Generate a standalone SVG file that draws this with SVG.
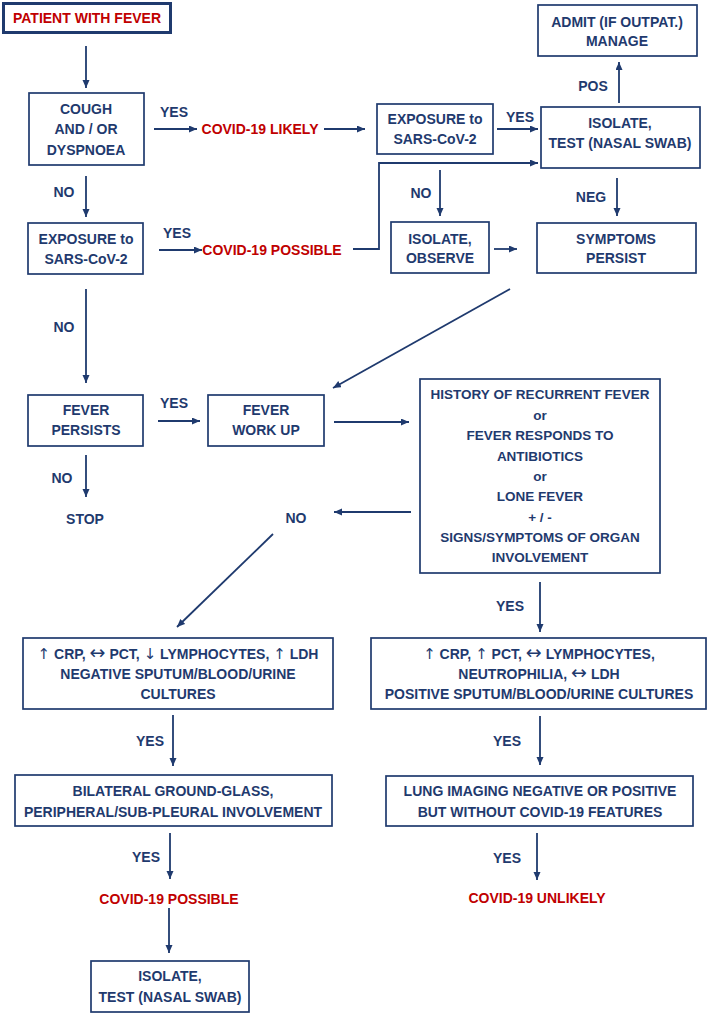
<svg xmlns="http://www.w3.org/2000/svg" width="708" height="1014" viewBox="0 0 708 1014">
<defs>
<marker id="ah" markerWidth="9" markerHeight="8" refX="8" refY="3.5" orient="auto" markerUnits="userSpaceOnUse">
<path d="M0,0 L8,3.5 L0,7 z" fill="#1F3A6E"/>
</marker>
<style>
.box{fill:#fff;stroke:#1F3A6E;stroke-width:1.7}
.t{font-family:"Liberation Sans",Arial,sans-serif;font-weight:bold;font-size:14px;fill:#1F3A6E;text-anchor:middle}
.r{fill:#C00000}
.s{font-size:13.5px}
.a{font-family:"DejaVu Sans",sans-serif;font-weight:normal;font-size:15px;fill:#1F3A6E}
.h{font-family:"DejaVu Sans",sans-serif;font-weight:normal;font-size:19px;fill:#1F3A6E}
.c{fill:none;stroke:#1F3A6E;stroke-width:1.8;marker-end:url(#ah)}
</style>
</defs>
<rect width="708" height="1014" fill="#fff"/>

<g id="connectors">
<line class="c" x1="86" y1="46" x2="86" y2="88"/>
<line class="c" x1="154" y1="129" x2="197" y2="129"/>
<line class="c" x1="324" y1="129" x2="365" y2="129"/>
<line class="c" x1="497" y1="129" x2="538" y2="129"/>
<line class="c" x1="619" y1="103" x2="619" y2="62"/>
<line class="c" x1="86" y1="176" x2="86" y2="217"/>
<line class="c" x1="159" y1="250" x2="202" y2="250"/>
<polyline class="c" points="353,249 379,249 379,163 538,163"/>
<line class="c" x1="440" y1="170" x2="440" y2="216"/>
<line class="c" x1="617" y1="178" x2="617" y2="216"/>
<line class="c" x1="494" y1="249" x2="517" y2="249"/>
<line class="c" x1="510" y1="289" x2="333" y2="388"/>
<line class="c" x1="86" y1="289" x2="86" y2="383"/>
<line class="c" x1="158" y1="421" x2="200" y2="421"/>
<line class="c" x1="334" y1="422" x2="409" y2="422"/>
<line class="c" x1="86" y1="455" x2="86" y2="497"/>
<line class="c" x1="411" y1="512" x2="334" y2="512"/>
<line class="c" x1="273" y1="534" x2="177" y2="627"/>
<line class="c" x1="540" y1="582" x2="540" y2="632"/>
<line class="c" x1="173" y1="715" x2="173" y2="766"/>
<line class="c" x1="540" y1="716" x2="540" y2="765"/>
<line class="c" x1="170" y1="833" x2="170" y2="879"/>
<line class="c" x1="537" y1="833" x2="537" y2="880"/>
<line class="c" x1="169" y1="908" x2="169" y2="953"/>
</g>

<g id="labels">
<text class="t" x="174" y="117">YES</text>
<text class="t" x="64" y="197">NO</text>
<text class="t" x="177" y="238">YES</text>
<text class="t" x="520" y="122">YES</text>
<text class="t" x="593" y="91">POS</text>
<text class="t" x="421" y="198">NO</text>
<text class="t" x="591" y="202">NEG</text>
<text class="t" x="64" y="332">NO</text>
<text class="t" x="174" y="408">YES</text>
<text class="t" x="62" y="483">NO</text>
<text class="t" x="85" y="524">STOP</text>
<text class="t" x="296" y="523">NO</text>
<text class="t" x="510" y="611">YES</text>
<text class="t" x="150" y="746">YES</text>
<text class="t" x="507" y="746">YES</text>
<text class="t" x="146" y="862">YES</text>
<text class="t" x="507" y="863">YES</text>
</g>

<g id="n-patient">
<rect x="3.5" y="3.5" width="167" height="29" fill="#fff" stroke="#1F3A6E" stroke-width="3"/>
<text class="t r" x="87" y="23">PATIENT WITH FEVER</text>
</g>
<g id="n-cough">
<rect class="box" x="29" y="93" width="115" height="72"/>
<text class="t" x="86" y="114">COUGH</text>
<text class="t" x="86" y="134">AND / OR</text>
<text class="t" x="86" y="155">DYSPNOEA</text>
</g>
<g id="n-likely">
<text class="t r" x="260" y="134">COVID-19 LIKELY</text>
</g>
<g id="n-exposure1">
<rect class="box" x="28" y="223" width="115" height="51"/>
<text class="t" x="86" y="244">EXPOSURE to</text>
<text class="t" x="86" y="264">SARS-CoV-2</text>
</g>
<g id="n-possible1">
<text class="t r" x="272" y="255">COVID-19 POSSIBLE</text>
</g>
<g id="n-exposure2">
<rect class="box" x="377" y="104" width="116" height="50"/>
<text class="t" x="435" y="124">EXPOSURE to</text>
<text class="t" x="435" y="144">SARS-CoV-2</text>
</g>
<g id="n-admit">
<rect class="box" x="538" y="5" width="159" height="51"/>
<text class="t" x="617" y="27">ADMIT (IF OUTPAT.)</text>
<text class="t" x="617" y="46">MANAGE</text>
</g>
<g id="n-isolate-test1">
<rect class="box" x="541" y="107" width="159" height="61"/>
<text class="t" x="620" y="128">ISOLATE,</text>
<text class="t" x="620" y="148">TEST (NASAL SWAB)</text>
</g>
<g id="n-isolate-observe">
<rect class="box" x="391" y="222" width="98" height="51"/>
<text class="t" x="440" y="244">ISOLATE,</text>
<text class="t" x="440" y="263">OBSERVE</text>
</g>
<g id="n-symptoms">
<rect class="box" x="537" y="223" width="159" height="50"/>
<text class="t" x="616" y="244">SYMPTOMS</text>
<text class="t" x="616" y="263">PERSIST</text>
</g>
<g id="n-fever-persists">
<rect class="box" x="28" y="395" width="115" height="51"/>
<text class="t" x="86" y="415">FEVER</text>
<text class="t" x="86" y="435">PERSISTS</text>
</g>
<g id="n-workup">
<rect class="box" x="208" y="395" width="116" height="51"/>
<text class="t" x="266" y="415">FEVER</text>
<text class="t" x="266" y="435">WORK UP</text>
</g>
<g id="n-history">
<rect class="box" x="420" y="379" width="240" height="194"/>
<text class="t s" x="540" y="399">HISTORY OF RECURRENT FEVER</text>
<text class="t s" x="540" y="420">or</text>
<text class="t s" x="540" y="440">FEVER RESPONDS TO</text>
<text class="t s" x="540" y="461">ANTIBIOTICS</text>
<text class="t s" x="540" y="481">or</text>
<text class="t s" x="540" y="501">LONE FEVER</text>
<text class="t s" x="540" y="522">+ / -</text>
<text class="t s" x="540" y="542">SIGNS/SYMPTOMS OF ORGAN</text>
<text class="t s" x="540" y="562">INVOLVEMENT</text>
</g>
<g id="n-labs-left">
<rect class="box" x="23" y="638" width="310" height="71"/>
<text class="t" x="178" y="659"><tspan class="a">↑</tspan> CRP, <tspan class="h">↔</tspan> PCT, <tspan class="a">↓</tspan> LYMPHOCYTES, <tspan class="a">↑</tspan> LDH</text>
<text class="t" x="178" y="679">NEGATIVE SPUTUM/BLOOD/URINE</text>
<text class="t" x="178" y="699">CULTURES</text>
</g>
<g id="n-labs-right">
<rect class="box" x="371" y="638" width="335" height="71"/>
<text class="t" x="539" y="659"><tspan class="a">↑</tspan> CRP, <tspan class="a">↑</tspan> PCT, <tspan class="h">↔</tspan> LYMPHOCYTES,</text>
<text class="t" x="539" y="679">NEUTROPHILIA, <tspan class="h">↔</tspan> LDH</text>
<text class="t" x="539" y="699">POSITIVE SPUTUM/BLOOD/URINE CULTURES</text>
</g>
<g id="n-bilateral">
<rect class="box" x="15" y="775" width="317" height="51"/>
<text class="t" x="173" y="796">BILATERAL GROUND-GLASS,</text>
<text class="t" x="173" y="817">PERIPHERAL/SUB-PLEURAL INVOLVEMENT</text>
</g>
<g id="n-lung">
<rect class="box" x="386" y="776" width="307" height="50"/>
<text class="t" x="540" y="796">LUNG IMAGING NEGATIVE OR POSITIVE</text>
<text class="t" x="540" y="817">BUT WITHOUT COVID-19 FEATURES</text>
</g>
<g id="n-possible2">
<text class="t r" x="169" y="904">COVID-19 POSSIBLE</text>
</g>
<g id="n-unlikely">
<text class="t r" x="537" y="903">COVID-19 UNLIKELY</text>
</g>
<g id="n-isolate-test2">
<rect class="box" x="91" y="961" width="158" height="51"/>
<text class="t" x="170" y="981">ISOLATE,</text>
<text class="t" x="170" y="1002">TEST (NASAL SWAB)</text>
</g>
</svg>
